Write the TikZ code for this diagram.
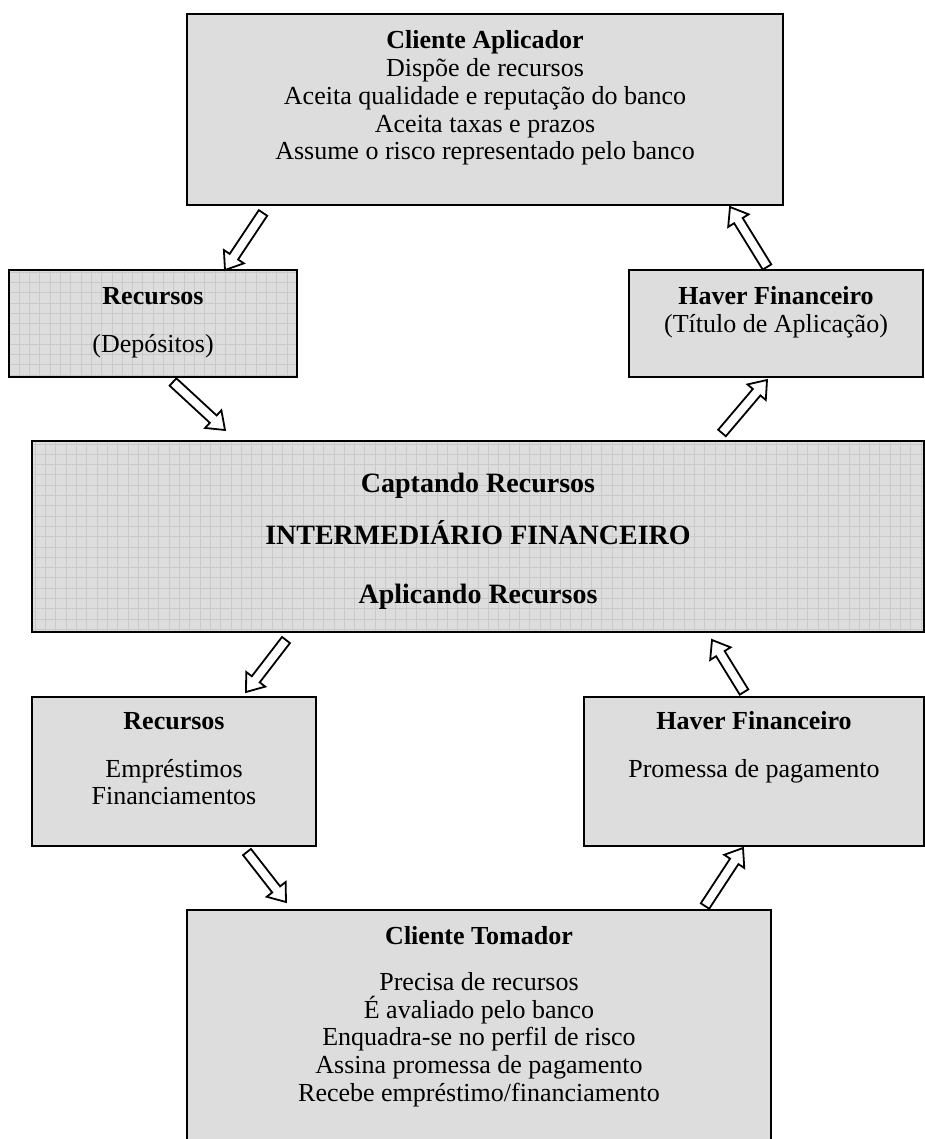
\documentclass[tikz,border=0pt]{standalone}
\usepackage{fontspec}
\setmainfont{Liberation Serif}
\usetikzlibrary{calc}
\definecolor{boxgray}{HTML}{DDDDDD}
\definecolor{gridgray}{HTML}{CACACA}
\tikzset{
  box/.style={draw=black, line width=0.8pt, fill=boxgray, inner sep=0pt},
  gridbox/.style={box, path picture={\draw[gridgray, line width=0.3pt] (path picture bounding box.south west) grid[step=5.15pt] (path picture bounding box.north east);}},
  txt/.style={anchor=base, inner sep=0pt, font=\fontsize{13}{15}\selectfont},
  head/.style={txt, font=\fontsize{13}{15}\selectfont\bfseries},
  bighead/.style={txt, font=\fontsize{14}{16}\selectfont\bfseries},
  arr/.style={draw=black, line width=0.9pt, fill=white, line join=miter}
}
\newcommand\hollowarrow[2]{%
  \coordinate (#1-#2-b) at ($(#2)!8pt!(#1)$);
  \draw[arr] ($(#1)!2.5pt!-90:(#2)$) -- ($(#1-#2-b)!2.5pt!-90:(#2)$) -- ($(#1-#2-b)!6pt!-90:(#2)$) -- (#2) -- ($(#1-#2-b)!6pt!90:(#2)$) -- ($(#1-#2-b)!2.5pt!90:(#2)$) -- ($(#1)!2.5pt!90:(#2)$) -- cycle;}
\begin{document}
\begin{tikzpicture}[x=0.5pt, y=-0.5pt]
\useasboundingbox (0,0) rectangle (925,1139);
% boxes
\node[box, minimum width=298pt, minimum height=95.5pt] (top) at (485,109.5) {};
\node[gridbox, minimum width=144pt, minimum height=53.5pt] (rectop) at (153,323.5) {};
\node[box, minimum width=147pt, minimum height=53.5pt] (havtop) at (776,323.5) {};
\node[gridbox, minimum width=446pt, minimum height=95.5pt] (central) at (478,536.5) {};
\node[box, minimum width=142pt, minimum height=74.5pt] (recbot) at (174,771.5) {};
\node[box, minimum width=170pt, minimum height=74.5pt] (havbot) at (754,771.5) {};
\node[box, minimum width=292pt, minimum height=125pt] (tom) at (479,1035) {};
% texts top
\node[head] (t0) at (485,49) {Cliente Aplicador};
\node[txt] (t1) at (485,77) {Dispõe de recursos};
\node[txt] (t2) at (485,105) {Aceita qualidade e reputação do banco};
\node[txt] (t3) at (485,133) {Aceita taxas e prazos};
\node[txt] (t4) at (485,160) {Assume o risco representado pelo banco};
% recursos top
\node[head] (r0) at (153,304) {Recursos};
\node[txt] (r1) at (153,352) {(Depósitos)};
% haver top
\node[head] (h0) at (776,304) {Haver Financeiro};
\node[txt] (h1) at (776,332) {(Título de Aplicação)};
% central
\node[bighead] (c0) at (478,492) {Captando Recursos};
\node[bighead] (c1) at (478,544) {INTERMEDIÁRIO FINANCEIRO};
\node[bighead] (c2) at (478,603) {Aplicando Recursos};
% recursos bottom
\node[head] (rb0) at (174,729) {Recursos};
\node[txt] (rb1) at (174,777) {Empréstimos};
\node[txt] (rb2) at (174,804) {Financiamentos};
% haver bottom
\node[head] (hb0) at (754,729) {Haver Financeiro};
\node[txt] (hb1) at (754,777) {Promessa de pagamento};
% tomador
\node[head] (m0) at (479,944) {Cliente Tomador};
\node[txt] (m1) at (479,990) {Precisa de recursos};
\node[txt] (m2) at (479,1018) {É avaliado pelo banco};
\node[txt] (m3) at (479,1045) {Enquadra-se no perfil de risco};
\node[txt] (m4) at (479,1073) {Assina promessa de pagamento};
\node[txt] (m5) at (479,1101) {Recebe empréstimo/financiamento};
% arrow end points
\coordinate (a1s) at (263,213); \coordinate (a1e) at (225,270);
\coordinate (a2s) at (767,267); \coordinate (a2e) at (730,207);
\coordinate (a3s) at (173,382); \coordinate (a3e) at (225,430);
\coordinate (a4s) at (722,433); \coordinate (a4e) at (767,380);
\coordinate (a5s) at (286,640); \coordinate (a5e) at (246,692);
\coordinate (a6s) at (744,692); \coordinate (a6e) at (712,640);
\coordinate (a7s) at (247,852); \coordinate (a7e) at (286,902);
\coordinate (a8s) at (705,906); \coordinate (a8e) at (743,848);
\hollowarrow{a1s}{a1e}
\hollowarrow{a2s}{a2e}
\hollowarrow{a3s}{a3e}
\hollowarrow{a4s}{a4e}
\hollowarrow{a5s}{a5e}
\hollowarrow{a6s}{a6e}
\hollowarrow{a7s}{a7e}
\hollowarrow{a8s}{a8e}
\end{tikzpicture}
\end{document}
